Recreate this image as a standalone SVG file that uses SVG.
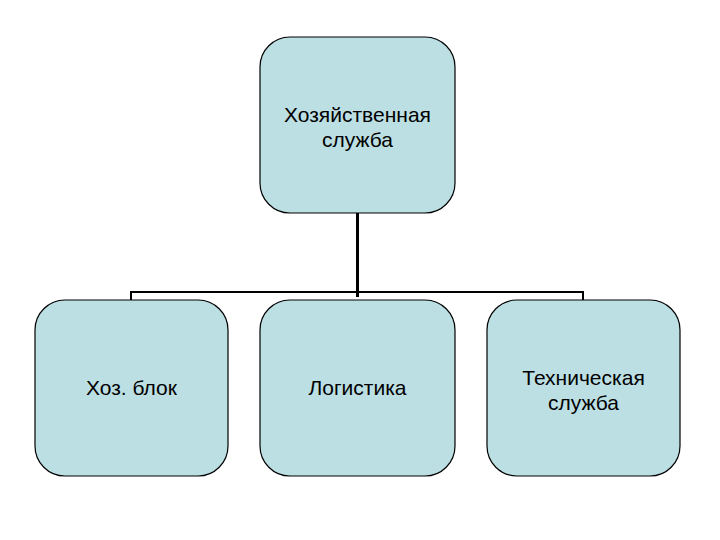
<svg xmlns="http://www.w3.org/2000/svg" width="720" height="540" viewBox="0 0 720 540">
<style>
.box{fill:#BCDFE3;stroke:#000;stroke-width:1.2}
.t{font-family:"Liberation Sans",Arial,sans-serif;font-size:21px;fill:#000;text-anchor:middle}
.c{fill:none;stroke:#000}
</style>
<rect width="720" height="540" fill="#fff"/>
<g id="connectors">
<path class="c" stroke-width="3" d="M357.5 213 V297"/>
<path class="c" stroke-width="2" d="M131 300 V292 H583 V300"/>
</g>
<g id="n0"><rect class="box" x="260" y="37" width="195" height="176" rx="30" ry="30"/>
<text class="t" x="357.5" y="122">Хозяйственная</text><text class="t" x="357.5" y="147">служба</text></g>
<g id="n1"><rect class="box" x="35" y="300" width="193" height="176" rx="30" ry="30"/>
<text class="t" x="131.5" y="395">Хоз. блок</text></g>
<g id="n2"><rect class="box" x="260" y="300" width="195" height="176" rx="30" ry="30"/>
<text class="t" x="357.5" y="395">Логистика</text></g>
<g id="n3"><rect class="box" x="487" y="300" width="193" height="176" rx="30" ry="30"/>
<text class="t" x="583.5" y="385">Техническая</text><text class="t" x="583.5" y="410">служба</text></g>
</svg>
